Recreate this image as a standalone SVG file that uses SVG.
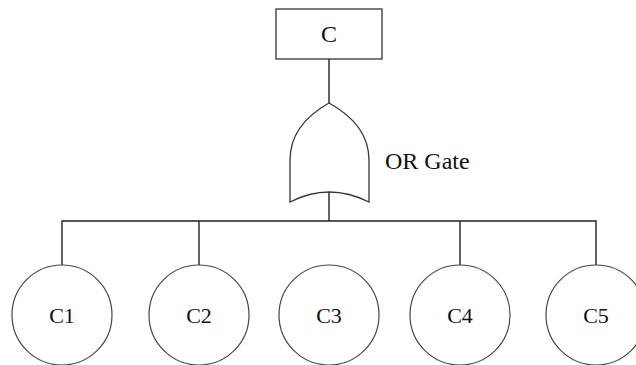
<svg xmlns="http://www.w3.org/2000/svg" width="636" height="365" viewBox="0 0 636 365">
<style>
.s{fill:#fff;stroke:#333;stroke-width:1.3}
.c{fill:#fff;stroke:#444;stroke-width:1.2}
.l{fill:none;stroke:#222;stroke-width:1.4}
.t{font-family:"Liberation Serif","Times New Roman",serif;fill:#111;text-anchor:middle}
</style>
<rect width="636" height="365" fill="#fff"/>
<g id="connectors">
<path class="l" d="M329,59 V103"/>
<path class="l" d="M329,192 V221"/>
<path class="l" d="M62,265 V221 H596 V265"/>
<path class="l" d="M199,221 V265"/>
<path class="l" d="M460,221 V265"/>
</g>
<g id="top">
<rect class="s" x="276" y="9" width="106" height="50"/>
<text class="t" x="329" y="42" font-size="24">C</text>
</g>
<g id="orgate">
<path class="s" d="M329,103 Q290,125 290,160 L290,202 Q329,182 369,202 L369,160 Q369,125 329,103 Z"/>
<text x="385" y="169" font-size="24" class="t" style="text-anchor:start">OR Gate</text>
</g>
<g id="c1"><circle class="c" cx="62" cy="315" r="50"/><text class="t" x="62" y="323" font-size="22">C1</text></g>
<g id="c2"><circle class="c" cx="199" cy="315" r="50"/><text class="t" x="199" y="323" font-size="22">C2</text></g>
<g id="c3"><circle class="c" cx="329" cy="315" r="50"/><text class="t" x="329" y="323" font-size="22">C3</text></g>
<g id="c4"><circle class="c" cx="460" cy="315" r="50"/><text class="t" x="460" y="323" font-size="22">C4</text></g>
<g id="c5"><circle class="c" cx="596" cy="315" r="50"/><text class="t" x="596" y="323" font-size="22">C5</text></g>
</svg>
